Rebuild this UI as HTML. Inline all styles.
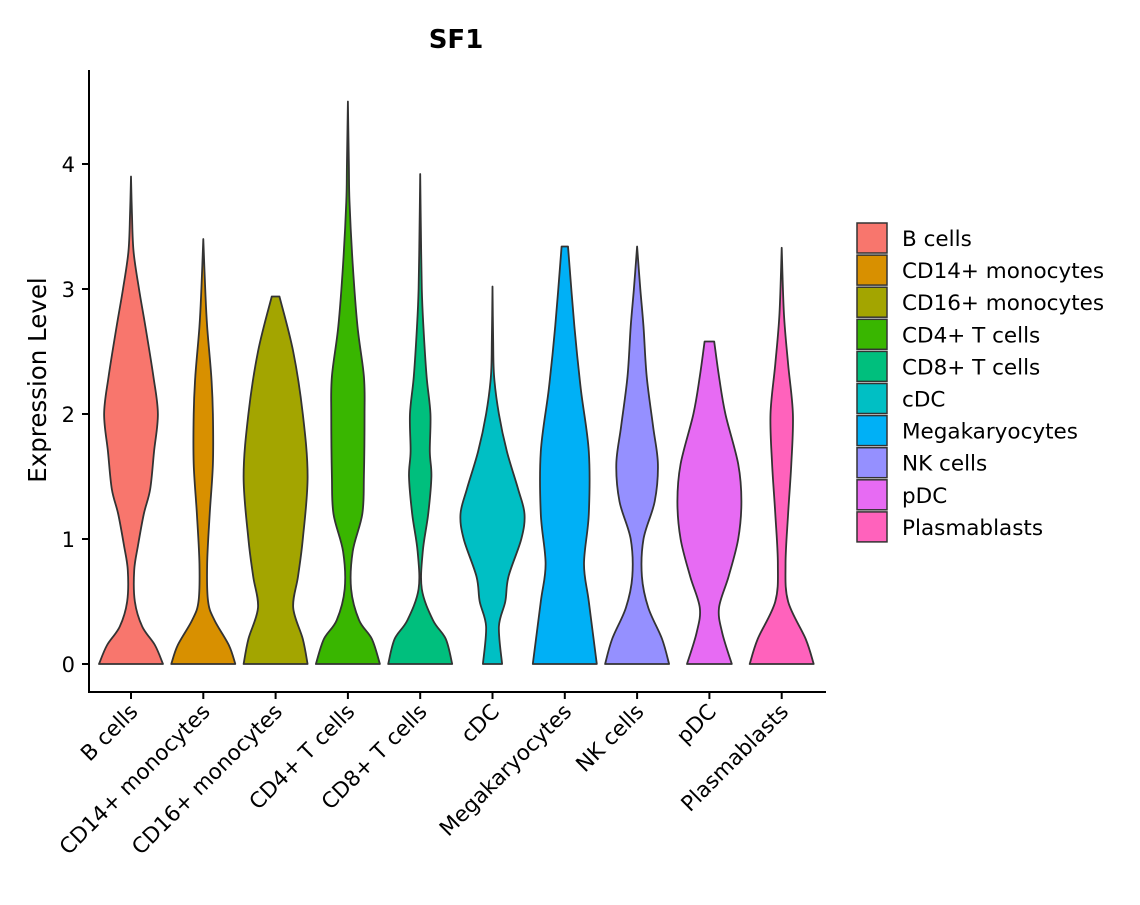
<!DOCTYPE html>
<html><head><meta charset="utf-8"><style>
body{margin:0;background:#fff}
svg text{font-family:"DejaVu Sans","Liberation Sans",sans-serif;fill:#000}
</style></head><body>
<svg id="chart" width="1140" height="900" viewBox="0 0 1140 900" xmlns="http://www.w3.org/2000/svg">
<text x="456" y="48" font-size="26" font-weight="bold" text-anchor="middle">SF1</text>
<g id="plot"></g>
<g id="yaxis"></g>
<g id="xaxis"></g>
<text transform="translate(46,380) rotate(-90)" font-size="24.5" text-anchor="middle">Expression Level</text>
<g id="legend"></g>
</svg>
<script>
const categories=["B cells","CD14+ monocytes","CD16+ monocytes","CD4+ T cells","CD8+ T cells","cDC","Megakaryocytes","NK cells","pDC","Plasmablasts"];
const colors=["#F8766D","#D89000","#A3A500","#39B600","#00BF7D","#00BFC4","#00B0F6","#9590FF","#E76BF3","#FF62BC"];
const yTicks=[0,1,2,3,4];
// density profiles: [expression level, relative half-width]
const violinB=[[0,1],[0.15,0.75],[0.3,0.35],[0.5,0.12],[0.75,0.1],[0.95,0.22],[1.2,0.4],[1.4,0.6],[1.7,0.72],[2.0,0.84],[2.3,0.7],[2.7,0.45],[3.0,0.25],[3.3,0.08],[3.6,0.03],[3.9,0]];
const violinCD14=[[0,1],[0.15,0.8],[0.35,0.35],[0.5,0.15],[0.8,0.12],[1.2,0.2],[1.6,0.3],[2.0,0.3],[2.3,0.25],[2.7,0.12],[3.0,0.06],[3.4,0]];
const violinCD16=[[0,1],[0.2,0.85],[0.45,0.55],[0.7,0.7],[1.0,0.85],[1.5,1.0],[2.0,0.85],[2.5,0.55],[2.94,0.12]];
const violinCD4=[[0,1],[0.2,0.75],[0.35,0.35],[0.6,0.1],[0.9,0.15],[1.2,0.45],[1.5,0.5],[2.0,0.52],[2.3,0.5],[2.7,0.3],[3.2,0.15],[3.7,0.05],[4.0,0.03],[4.5,0]];
const violinCD8=[[0,1],[0.2,0.8],[0.35,0.4],[0.6,0.05],[0.9,0.08],[1.2,0.25],[1.5,0.35],[1.7,0.3],[2.0,0.32],[2.3,0.2],[2.7,0.1],[3.0,0.05],[3.5,0.02],[3.92,0]];
const violinCDC=[[0,0.3],[0.3,0.2],[0.5,0.4],[0.7,0.5],[1.0,0.9],[1.2,1.0],[1.4,0.8],[1.7,0.45],[2.0,0.2],[2.3,0.05],[2.6,0.02],[3.02,0]];
const violinMega=[[0,1],[0.5,0.75],[0.8,0.6],[1.2,0.75],[1.7,0.75],[2.2,0.5],[2.7,0.3],[3.34,0.1]];
const violinNK=[[0,1],[0.2,0.78],[0.45,0.35],[0.7,0.15],[1.0,0.2],[1.3,0.55],[1.6,0.65],[1.9,0.5],[2.3,0.3],[2.7,0.2],[3.0,0.1],[3.34,0]];
const violinPDC=[[0,0.7],[0.25,0.4],[0.45,0.3],[0.7,0.6],[1.0,0.9],[1.3,1.0],[1.6,0.9],[2.0,0.5],[2.3,0.3],[2.58,0.15]];
const violinPlasma=[[0,1],[0.2,0.75],[0.5,0.2],[0.8,0.12],[1.2,0.2],[1.6,0.3],[2.0,0.35],[2.4,0.2],[2.8,0.07],[3.33,0]];
const violins=[violinB,violinCD14,violinCD16,violinCD4,violinCD8,violinCDC,violinMega,violinNK,violinPDC,violinPlasma];

const NS="http://www.w3.org/2000/svg";
const x0=131, xStep=72.3, halfMax=32;
const xPos=i=>x0+i*xStep;
const yPos=v=>664-v*125;
function mk(tag,attrs,parent){const e=document.createElementNS(NS,tag);for(const k in attrs)e.setAttribute(k,attrs[k]);parent.appendChild(e);return e;}
function smooth(pts){
  let d="M"+pts[0][0]+","+pts[0][1];
  for(let i=0;i<pts.length-1;i++){
    const p0=pts[Math.max(i-1,0)],p1=pts[i],p2=pts[i+1],p3=pts[Math.min(i+2,pts.length-1)];
    const c1=[p1[0]+(p2[0]-p0[0])/6,p1[1]+(p2[1]-p0[1])/6];
    const c2=[p2[0]-(p3[0]-p1[0])/6,p2[1]-(p3[1]-p1[1])/6];
    d+=" C"+c1[0]+","+c1[1]+" "+c2[0]+","+c2[1]+" "+p2[0]+","+p2[1];
  }
  return d;
}
const plot=document.getElementById("plot");
violins.forEach((prof,i)=>{
  const cx=xPos(i);
  const right=prof.map(p=>[cx+p[1]*halfMax,yPos(p[0])]);
  const left=prof.slice().reverse().map(p=>[cx-p[1]*halfMax,yPos(p[0])]);
  const d=smooth(right)+" L"+left[0][0]+","+left[0][1]+smooth(left).replace(/^M[^ ]+/,"")+" Z";
  const el=mk("path",{d:d,fill:colors[i],stroke:"#333","stroke-width":1.8,"stroke-linejoin":"round"},plot);
  
  
});
const ya=document.getElementById("yaxis");
mk("line",{x1:89,y1:70,x2:89,y2:692,stroke:"#000","stroke-width":2},ya);
yTicks.forEach(t=>{
  mk("line",{x1:82,y1:yPos(t),x2:89,y2:yPos(t),stroke:"#000","stroke-width":2},ya);
  const tx=mk("text",{x:75,y:yPos(t)+8,"font-size":21,"text-anchor":"end"},ya);
  tx.textContent=t;
  
  
});
const xa=document.getElementById("xaxis");
mk("line",{x1:88,y1:692,x2:826,y2:692,stroke:"#000","stroke-width":2},xa);
categories.forEach((c,i)=>{
  const x=xPos(i);
  mk("line",{x1:x,y1:692,x2:x,y2:699,stroke:"#000","stroke-width":2},xa);
  const tx=mk("text",{transform:`translate(${x+8},${713}) rotate(-45)`,"font-size":21.5,"text-anchor":"end"},xa);
  tx.textContent=c;
  
  
});
const lg=document.getElementById("legend");
categories.forEach((c,i)=>{
  const y=223+i*32.1;
  const r=mk("rect",{x:857,y:y,width:30,height:30,fill:colors[i],stroke:"#333","stroke-width":1.5},lg);
  
  
  const t=mk("text",{x:902,y:y+23,"font-size":21.5},lg);
  t.textContent=c;
  
  
});
</script>
</body></html>
